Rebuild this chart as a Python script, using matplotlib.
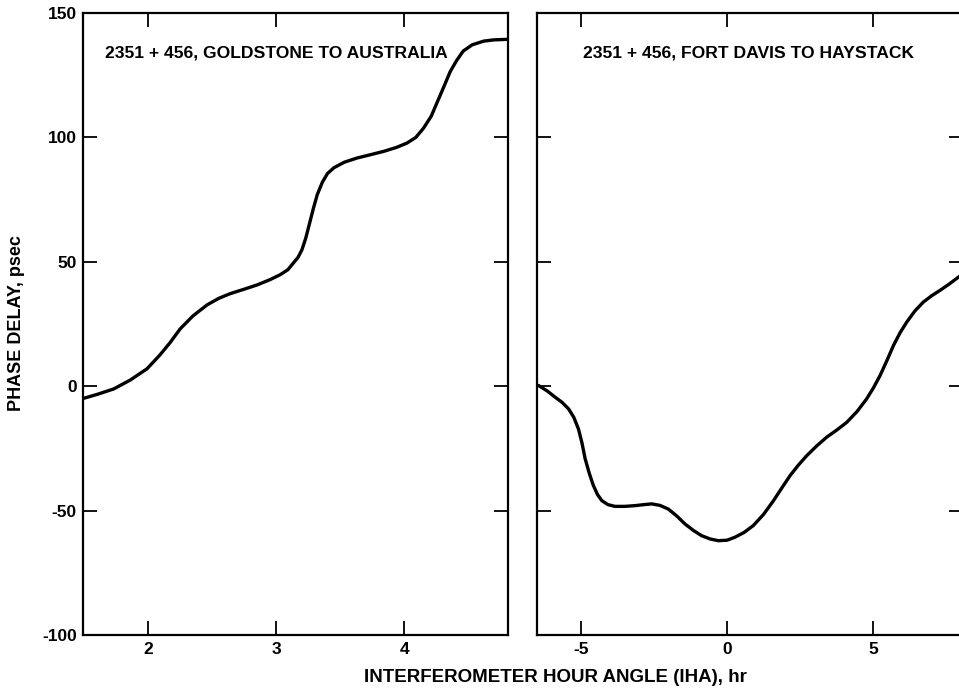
import matplotlib.pyplot as plt

plt.rcParams['font.family'] = ['Liberation Sans', 'DejaVu Sans']
plt.rcParams['font.weight'] = 'bold'
plt.rcParams['axes.unicode_minus'] = False

# Goldstone to Australia
iha_gold = [1.48, 1.60, 1.73, 1.86, 1.99, 2.09, 2.17, 2.25, 2.35, 2.46, 2.55, 2.64,
            2.75, 2.85, 2.95, 3.03, 3.09, 3.13, 3.17, 3.20, 3.23, 3.26, 3.29, 3.32,
            3.36, 3.40, 3.45, 3.53, 3.63, 3.74, 3.84, 3.94, 4.02, 4.09, 4.15, 4.21,
            4.26, 4.31, 4.36, 4.41, 4.46, 4.53, 4.62, 4.70, 4.80]
delay_gold = [-5.1, -3.3, -1.1, 2.5, 7.0, 12.5, 17.5, 23.1, 28.3, 32.7, 35.3, 37.2,
              39.0, 40.7, 42.8, 44.8, 46.8, 49.3, 51.8, 54.8, 59.5, 65.5, 71.5, 77.0,
              82.0, 85.5, 87.8, 90.0, 91.7, 93.1, 94.4, 96.0, 97.7, 100.0, 103.7, 108.5,
              114.5, 120.5, 126.6, 131.0, 134.7, 137.2, 138.7, 139.2, 139.4]

# Fort Davis to Haystack
iha_fd = [-6.46, -6.15, -5.89, -5.65, -5.43, -5.25, -5.09, -4.97, -4.86, -4.72, -4.58,
          -4.44, -4.29, -4.08, -3.84, -3.50, -3.15, -2.85, -2.58, -2.30, -2.01, -1.72,
          -1.44, -1.15, -0.87, -0.58, -0.30, 0.00, 0.27, 0.58, 0.90, 1.25, 1.59, 1.88,
          2.16, 2.45, 2.73, 3.07, 3.41, 3.76, 4.10, 4.45, 4.78, 5.02, 5.24, 5.47, 5.70,
          5.92, 6.15, 6.43, 6.72, 7.00, 7.29, 7.60, 7.92, 8.10]
delay_fd = [0.3, -2.0, -4.4, -6.5, -9.1, -12.5, -17.2, -22.8, -29.2, -35.0, -39.9,
            -43.5, -46.0, -47.6, -48.3, -48.3, -48.0, -47.6, -47.3, -47.9, -49.4, -52.2,
            -55.4, -58.0, -60.1, -61.4, -62.1, -61.9, -60.7, -58.8, -56.0, -51.5, -46.0,
            -40.8, -35.9, -31.6, -27.9, -24.0, -20.5, -17.6, -14.5, -10.2, -5.1, -0.5,
            4.3, 10.2, 16.4, 21.4, 25.7, 30.2, 33.8, 36.3, 38.5, 41.0, 43.8, 45.5]

yticks = [-100, -50, 0, 50, 100, 150]

fig = plt.figure(figsize=(9.59, 6.93), dpi=100)
ax1 = fig.add_axes([83 / 959, 1 - 635 / 693, 425 / 959, 622 / 693])
ax2 = fig.add_axes([537 / 959, 1 - 635 / 693, 426 / 959, 622 / 693])

for ax in (ax1, ax2):
    ax.set_ylim(-100, 150)
    ax.set_yticks(yticks)
    ax.tick_params(direction='in', length=10, width=1.3, top=True, right=True,
                   labelsize=12.5)
    ax.tick_params(axis='y', pad=4.5)
    ax.tick_params(axis='x', pad=5)
    for s in ax.spines.values():
        s.set_linewidth(1.6)

ax1.plot(iha_gold, delay_gold, color='black', lw=2.4, solid_capstyle='round')
ax1.set_xlim(1.49, 4.81)
ax1.set_xticks([2, 3, 4])
ax1.text(0.052, 0.935, '2351 + 456, GOLDSTONE TO AUSTRALIA', transform=ax1.transAxes,
         fontsize=12.6, va='center', ha='left')

ax2.plot(iha_fd, delay_fd, color='black', lw=2.4, solid_capstyle='round')
ax2.set_xlim(-6.51, 8.08)
ax2.set_xticks([-5, 0, 5])
ax2.set_yticklabels([])
ax2.text(0.108, 0.935, '2351 + 456, FORT DAVIS TO HAYSTACK', transform=ax2.transAxes,
         fontsize=12.6, va='center', ha='left')

fig.text(17 / 959, 1 - 323 / 693, 'PHASE DELAY, psec', rotation=90, fontsize=13,
         ha='center', va='center')
fig.text(555 / 959, 1 - 678 / 693, 'INTERFEROMETER HOUR ANGLE (IHA), hr', fontsize=13.5,
         ha='center', va='center')

fig.savefig('out.png', dpi=100)
